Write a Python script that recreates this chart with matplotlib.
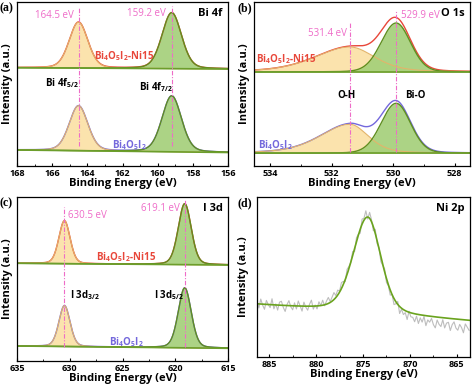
import numpy as np
import matplotlib.pyplot as plt
from matplotlib.ticker import MultipleLocator, AutoMinorLocator

plt.rcParams['font.family'] = 'Open Sans'
plt.rcParams['mathtext.fontset'] = 'custom'
plt.rcParams['mathtext.rm'] = 'Open Sans'
plt.rcParams['mathtext.bf'] = 'Open Sans:bold'

# ---- (a) Bi 4f : [Bi 4f5/2, Bi 4f7/2]
bi_centers = [164.5, 159.2]
bi_h_ni15 = [46, 56]
bi_h_pure = [45, 56]
bi_fwhm = [1.25, 1.3]
bi_base_ni15 = [98.3, 97.0]     # baseline at left / right edge
bi_base_pure = [16.0, 13.5]

# ---- (b) O 1s : [O-H, Bi-O]
o_centers = [531.4, 529.9]
o_h_ni15 = [25, 49]
o_wl_ni15 = [2.7, 1.15]
o_wr_ni15 = [1.9, 1.1]
o_h_pure = [29, 50]
o_wl_pure = [2.3, 1.15]
o_wr_pure = [1.4, 1.1]
o_mix = [0.4, 0.1]
o_base_ni15 = [94.0, 94.0]
o_base_pure = [12.7, 12.7]

# ---- (c) I 3d : [I 3d3/2, I 3d5/2]
i_centers = [630.5, 619.1]
i_h_ni15 = [43, 61]
i_h_pure = [41, 60]
i_fwhm = [1.25, 1.45]
i_base_ni15 = [97.7, 96.0]
i_base_pure = [15.0, 12.7]

# ---- (d) Ni 2p
ni_center = 874.5
ni_height = 96
ni_wl, ni_wr = 3.7, 3.3
ni_base = [52.5, 36.0]
# raw counts minus fit (886.3 -> 863.7 eV, 0.2 eV steps)
ni_resid = [3, -4, 5, -1, -5, 4, 0, -3, 6, -4, 1, -5, 3, 4, -2, -6, 1, 5, -1, -4, 3, -3, 5, 0, -5, 4, -1, -4, 2, 6, -3,
            1, -3, 4, 0, 5, -1, 3, 6, 1, 4, 7, 2, 5, 1, 6, 3, -2, 5, 2, 0, 4,
            -3, 4, 1, -4, 5, 2, 7, -2, 6, 2, -4, 4, -3, 1, -5,
            -1, 3, -4, -1, -5, 0, -6, -2, 3, -7, -1, -5, -2, -8, 1, -4,
            -4, -8, -2, -9, -3, -7, -1, -10, -4, -6, -2, -8, -11, -3, -7, -9, -2, -10, -5, -4, -12, -6, -3, -9, -11, -5, -8, -13, -4, -7, -10]

PINK = '#ee6cc8'
RED = '#e8473a'
BLUE = '#7468dc'
YEL_F, YEL_E = '#fbe0a4', '#e3b46a'
GRN_F, GRN_E = '#a3cf78', '#5f8f1f'
BASE_C = '#6c9e2c'


def pv(x, c, h, wl, wr, m):
    # pseudo-voigt, wl used on the high-BE side
    w = np.where(x > c, wl, wr)
    u = ((x - c) / w) ** 2
    return h * ((1 - m) * np.exp(-4 * np.log(2) * u) + m / (1 + 4 * u))


def spectrum(ax, x, base, heights, centers, wl, wr, mix, env_col):
    bl = np.interp(x, [x[-1], x[0]], [base[1], base[0]])
    comps = [pv(x, centers[k], heights[k], wl[k], wr[k], mix[k]) for k in range(2)]
    env = bl + comps[0] + comps[1]
    ax.fill_between(x, bl, bl + comps[0], color=YEL_F, alpha=0.9, lw=0)
    ax.fill_between(x, bl, bl + comps[1], color=GRN_F, alpha=0.9, lw=0)
    ax.plot(x, env, color=env_col, lw=1.0)
    ax.plot(x, bl + comps[0], color=YEL_E, lw=0.8)
    ax.plot(x, bl + comps[1], color=GRN_E, lw=1.0)
    ax.plot(x, bl, color=BASE_C, lw=1.2)


def style(ax, xlim, major, title):
    ax.set_xlim(*xlim)
    ax.set_ylim(0, 164)
    ax.xaxis.set_major_locator(MultipleLocator(major))
    ax.xaxis.set_minor_locator(AutoMinorLocator(2))
    ax.tick_params(axis='x', which='major', direction='in', length=2.5, width=0.8,
                   labelsize=6.5, pad=2)
    ax.tick_params(axis='x', which='minor', direction='in', length=1.5, width=0.6)
    ax.tick_params(axis='y', left=False, labelleft=False)
    for lab in ax.get_xticklabels():
        lab.set_fontweight('bold')
    for s in ax.spines.values():
        s.set_linewidth(0.9)
    ax.set_xlabel('Binding Energy (eV)', fontsize=8, fontweight='bold', labelpad=0)
    ax.set_ylabel('Intensity (a.u.)', fontsize=8, fontweight='bold', labelpad=3)
    ax.text(0.975, 0.965, title, transform=ax.transAxes, ha='right', va='top',
            fontsize=8, fontweight='bold')


def vline(ax, c, y0, y1):
    ax.plot([c, c], [y0, y1], color=PINK, lw=0.8, dashes=(4, 1.5, 1, 1.5))


def txt(ax, x, y, s, col='black', ha='center', size=7, bold=True):
    ax.text(x, y, s, color=col, ha=ha, va='center', fontsize=size,
            fontweight='bold' if bold else 'normal')


ni15_lab = r'Bi$_\mathbf{4}$O$_\mathbf{5}$I$_\mathbf{2}$-Ni15'
pure_lab = r'Bi$_\mathbf{4}$O$_\mathbf{5}$I$_\mathbf{2}$'

fig = plt.figure(figsize=(4.74, 3.89), dpi=100)
ax_a = fig.add_axes([17 / 474, 1 - 166 / 389, 211 / 474, 164 / 389])
ax_b = fig.add_axes([254 / 474, 1 - 166 / 389, 216 / 474, 164 / 389])
ax_c = fig.add_axes([17 / 474, 1 - 361 / 389, 211 / 474, 164 / 389])
ax_d = fig.add_axes([257 / 474, 1 - 357 / 389, 213 / 474, 160 / 389])

# (a)
xa = np.linspace(168, 156, 600)
spectrum(ax_a, xa, bi_base_ni15, bi_h_ni15, bi_centers, bi_fwhm, bi_fwhm, [0.2, 0.2], RED)
spectrum(ax_a, xa, bi_base_pure, bi_h_pure, bi_centers, bi_fwhm, bi_fwhm, [0.2, 0.2], BLUE)
vline(ax_a, bi_centers[0], 20, 158)
vline(ax_a, bi_centers[1], 20, 160)
style(ax_a, (168, 156), 2, 'Bi 4f')
txt(ax_a, 164.75, 150, '164.5 eV', PINK, 'right', bold=False)
txt(ax_a, 159.53, 153, '159.2 eV', PINK, 'right', bold=False)
txt(ax_a, 161.9, 110, ni15_lab, RED)
txt(ax_a, 165.45, 83, r'Bi 4f$_\mathbf{5/2}$')
txt(ax_a, 160.1, 79, r'Bi 4f$_\mathbf{7/2}$')
txt(ax_a, 161.6, 21, pure_lab, BLUE)

# (b)
xb = np.linspace(534.52, 527.5, 600)
spectrum(ax_b, xb, o_base_ni15, o_h_ni15, o_centers, o_wl_ni15, o_wr_ni15, o_mix, RED)
spectrum(ax_b, xb, o_base_pure, o_h_pure, o_centers, o_wl_pure, o_wr_pure, o_mix, BLUE)
vline(ax_b, o_centers[0], 14, 144)
vline(ax_b, o_centers[1], 14, 156)
style(ax_b, (534.52, 527.5), 2, 'O 1s')
txt(ax_b, 531.5, 132, '531.4 eV', PINK, 'right', bold=False)
txt(ax_b, 529.73, 150, '529.9 eV', PINK, 'left', bold=False)
txt(ax_b, 533.47, 107, ni15_lab, RED)
txt(ax_b, 531.5, 71, 'O-H')
txt(ax_b, 529.27, 71, 'Bi-O')
txt(ax_b, 533.83, 21, pure_lab, BLUE)

# (c)
xc = np.linspace(635, 615, 800)
spectrum(ax_c, xc, i_base_ni15, i_h_ni15, i_centers, i_fwhm, i_fwhm, [0.2, 0.2], RED)
spectrum(ax_c, xc, i_base_pure, i_h_pure, i_centers, i_fwhm, i_fwhm, [0.2, 0.2], BLUE)
vline(ax_c, i_centers[0], 14, 154)
vline(ax_c, i_centers[1], 14, 161)
style(ax_c, (635, 615), 5, 'I 3d')
txt(ax_c, 630.17, 145, '630.5 eV', PINK, 'left', bold=False)
txt(ax_c, 619.55, 152, '619.1 eV', PINK, 'right', bold=False)
txt(ax_c, 624.67, 104, ni15_lab, RED)
txt(ax_c, 628.55, 66, r'I 3d$_\mathbf{3/2}$')
txt(ax_c, 620.6, 66, r'I 3d$_\mathbf{5/2}$')
txt(ax_c, 624.67, 19, pure_lab, BLUE)

# (d)
xd = np.linspace(886.3, 863.7, len(ni_resid))
xf = np.linspace(886.3, 863.6, 600)
fit_bl = np.interp(xf, [863.6, 886.3], [ni_base[1], ni_base[0]])
fit = fit_bl + pv(xf, ni_center, ni_height, ni_wl, ni_wr, 0.3)
raw = np.interp(xd, xf[::-1], fit[::-1]) + np.array(ni_resid)
ax_d.plot(xd, raw, color='#bdbdbd', lw=0.8)
ax_d.plot(xf, fit, color='#6aa31e', lw=1.2)
style(ax_d, (886.3, 863.6), 5, 'Ni 2p')
ax_d.set_ylim(0, 160)
ax_d.set_ylabel('Intensity (a.u.)', fontsize=8, fontweight='bold', labelpad=6)

for lab, (px, py) in zip(['(a)', '(b)', '(c)', '(d)'],
                         [(0, 8), (237, 8), (0, 203), (237, 203)]):
    fig.text(px / 474, 1 - py / 389, lab, family='Liberation Serif', fontweight='bold',
             fontsize=8.5, va='center', ha='left')

fig.savefig('out.png', dpi=100)
